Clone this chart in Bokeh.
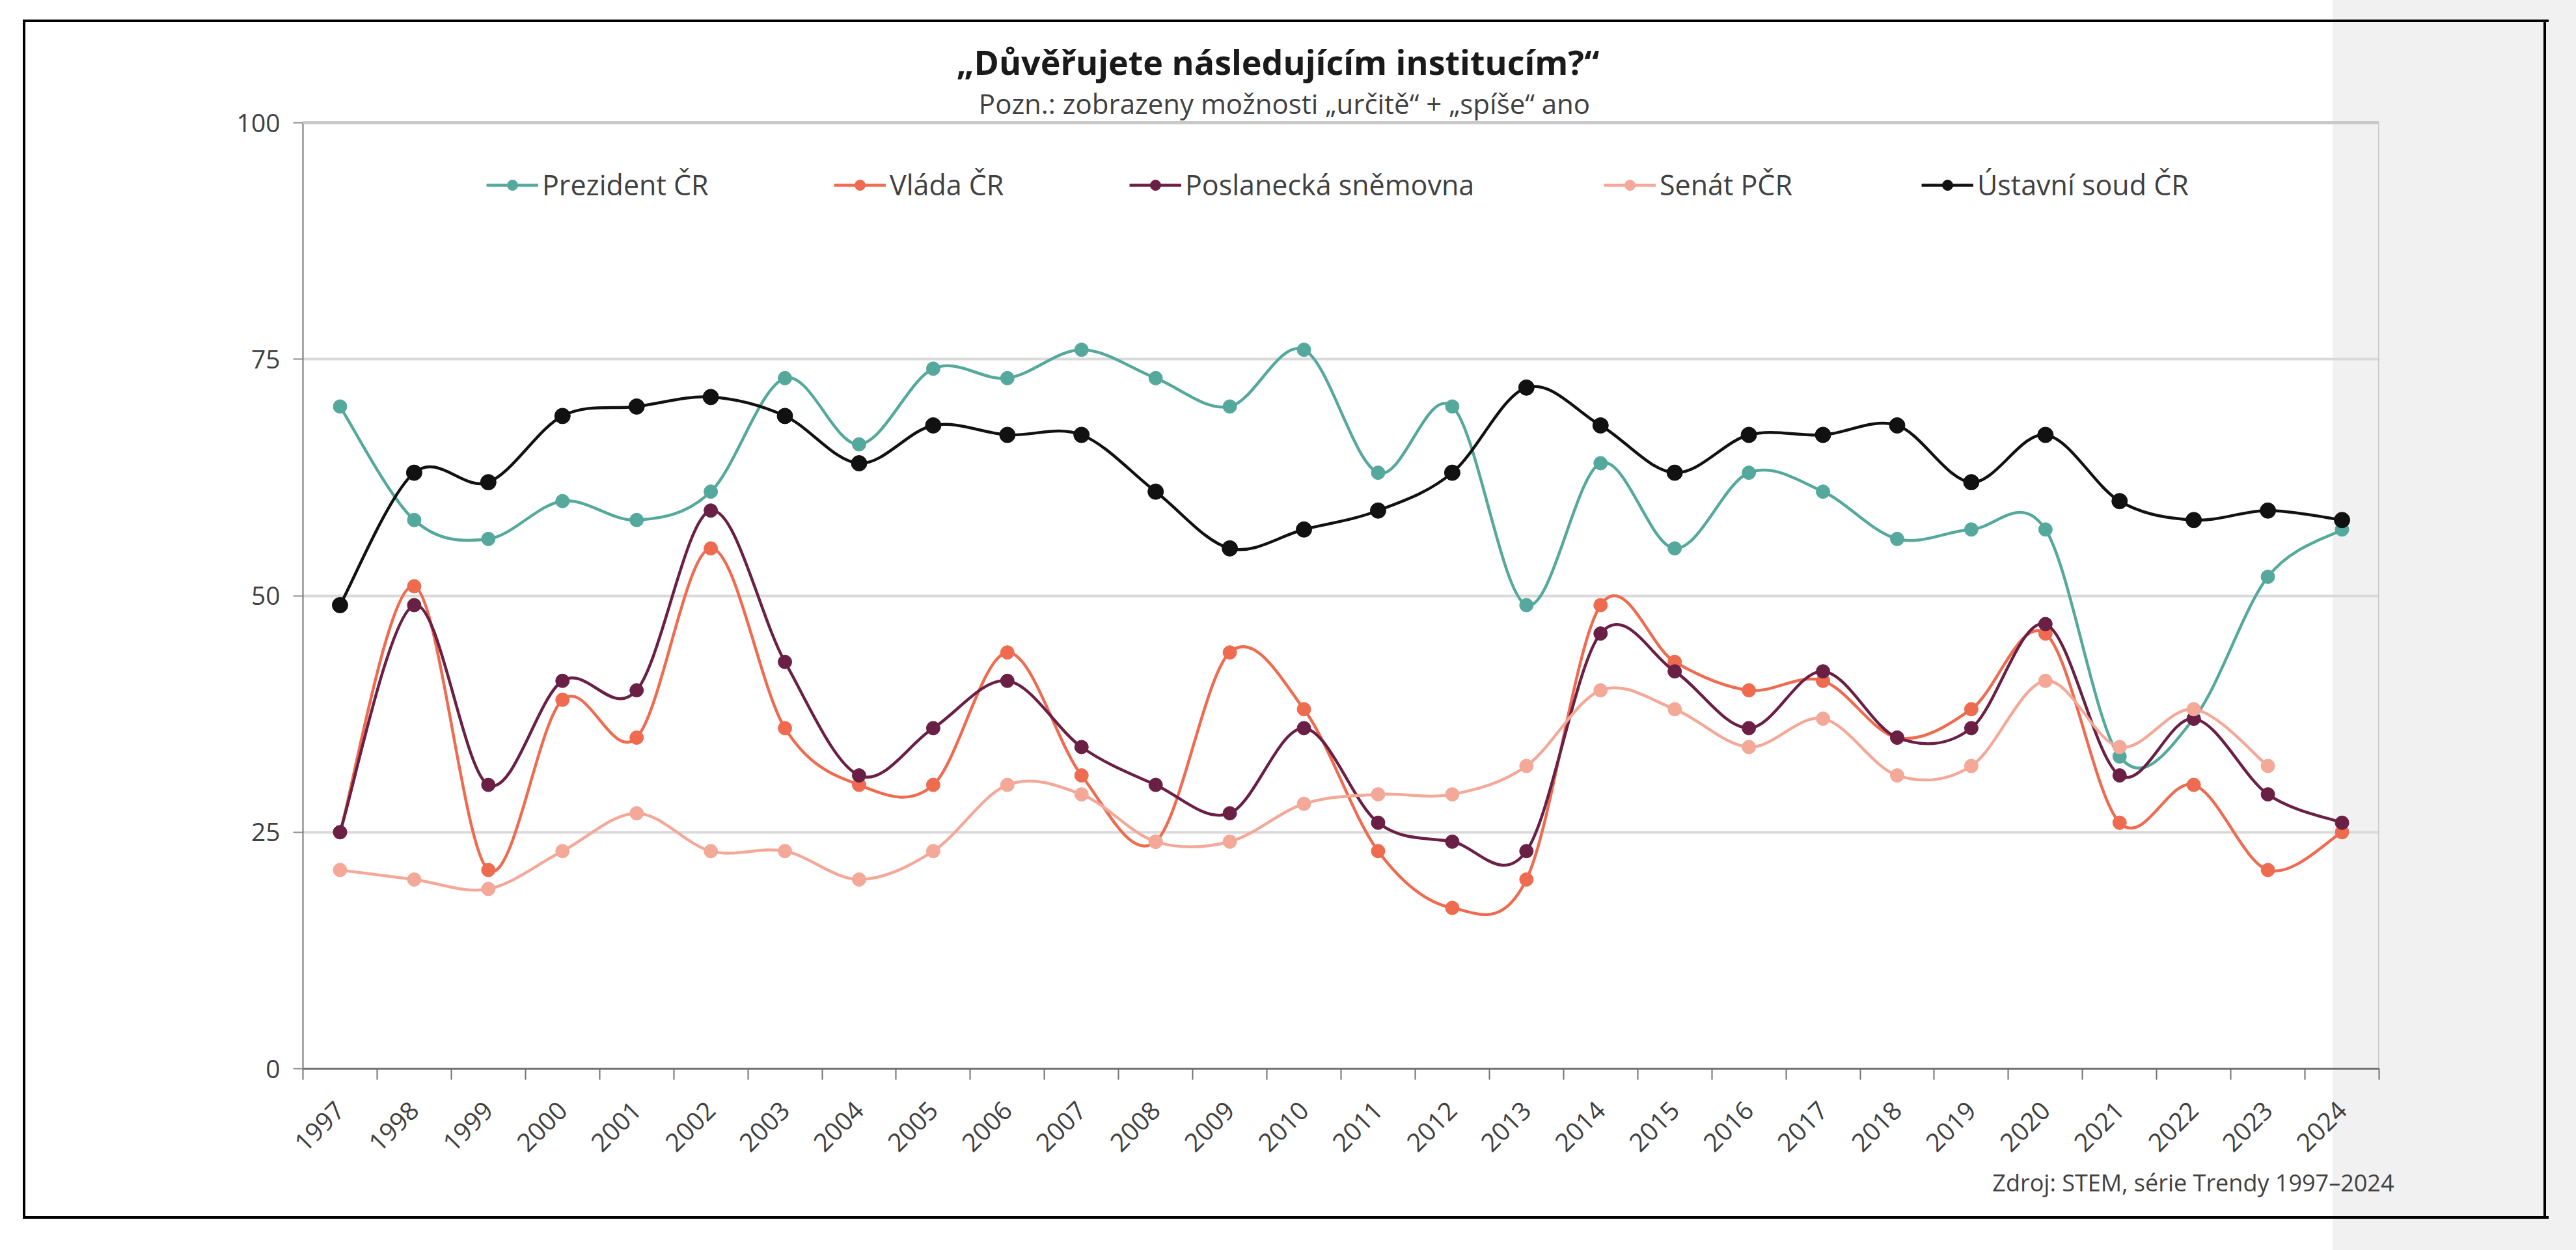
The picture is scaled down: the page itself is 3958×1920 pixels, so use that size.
import math
from bokeh.plotting import figure
from bokeh.models import (Range1d, FixedTicker, Label, Legend, LegendItem, Span,
                          Title, ColumnDataSource)
from bokeh.embed import file_html
from bokeh.resources import INLINE

# --- data: share of "definitely" + "rather" trusting answers (%) ---
years = list(range(1997, 2025))
prezident = [70, 58, 56, 60, 58, 61, 73, 66, 74, 73, 76, 73, 70, 76,
             63, 70, 49, 64, 55, 63, 61, 56, 57, 57, 33, 37, 52, 57]
vlada = [25, 51, 21, 39, 35, 55, 36, 30, 30, 44, 31, 24, 44, 38,
         23, 17, 20, 49, 43, 40, 41, 35, 38, 46, 26, 30, 21, 25]
snemovna = [25, 49, 30, 41, 40, 59, 43, 31, 36, 41, 34, 30, 27, 36,
            26, 24, 23, 46, 42, 36, 42, 35, 36, 47, 31, 37, 29, 26]
senat = [21, 20, 19, 23, 27, 23, 23, 20, 23, 30, 29, 24, 24, 28,
         29, 29, 32, 40, 38, 34, 37, 31, 32, 41, 34, 38, 32]   # through 2023
ustavni = [49, 63, 62, 69, 70, 71, 69, 64, 68, 67, 67, 61, 55, 57,
           59, 63, 72, 68, 63, 67, 67, 68, 62, 67, 60, 58, 59, 58]

series_names = ["Prezident ČR", "Vláda ČR", "Poslanecká sněmovna", "Senát PČR", "Ústavní soud ČR"]
series_values = [prezident, vlada, snemovna, senat, ustavni]
series_colors = ["#55a99c", "#ef6b50", "#6a1f45", "#f4a898", "#111111"]
marker_sizes = [21, 21, 21, 21, 24]
y_ticks = [0, 25, 50, 75, 100]

FONT = "Open Sans"
TEXT = "#404040"

# page geometry (px)
W, H = 3958, 1920
FL, FR, FT, FB = 465, 3655, 188, 1641   # plot area edges (value 100 sits at FT)
Y_TOP = y_ticks[-1] * FB / (FB - FT)     # frame reaches the top of the page


def smooth_segments(xs, ys):
    """Cubic Bezier pieces through the points (Catmull-Rom style tangents)."""
    n = len(xs)
    seg = {k: [] for k in ("x0", "y0", "x1", "y1", "cx0", "cy0", "cx1", "cy1")}
    for i in range(n - 1):
        xp, yp = (xs[i - 1], ys[i - 1]) if i > 0 else (xs[i], ys[i])
        xn, yn = (xs[i + 2], ys[i + 2]) if i + 2 < n else (xs[i + 1], ys[i + 1])
        seg["x0"].append(xs[i]); seg["y0"].append(ys[i])
        seg["x1"].append(xs[i + 1]); seg["y1"].append(ys[i + 1])
        seg["cx0"].append(xs[i] + (xs[i + 1] - xp) / 6.0)
        seg["cy0"].append(ys[i] + (ys[i + 1] - yp) / 6.0)
        seg["cx1"].append(xs[i + 1] - (xn - xs[i]) / 6.0)
        seg["cy1"].append(ys[i + 1] - (yn - ys[i]) / 6.0)
    return seg


p = figure(width=W, height=H,
           x_range=Range1d(years[0] - 0.5, years[-1] + 0.5),
           y_range=Range1d(0, Y_TOP),
           output_backend="svg", toolbar_location=None,
           min_border_left=FL, min_border_right=W - FR,
           min_border_top=0, min_border_bottom=H - FB)

# transparent canvas; the page frame and the grey right strip are the element's background
p.background_fill_color = None
p.border_fill_color = None
p.outline_line_color = None
p.styles = {
    "background": (
        "linear-gradient(#000,#000) 35px 30px / 3881px 4px no-repeat,"
        "linear-gradient(#000,#000) 35px 1868px / 3881px 4px no-repeat,"
        "linear-gradient(#000,#000) 35px 30px / 4px 1842px no-repeat,"
        "linear-gradient(#000,#000) 3908px 30px / 4px 1842px no-repeat,"
        "linear-gradient(to right, #ffffff 3584px, #f1f1f1 3584px)"
    )
}

# x axis: labels on years, ticks between years
p.xaxis.ticker = FixedTicker(ticks=years, minor_ticks=[y - 0.5 for y in years] + [years[-1] + 0.5])
p.xaxis.major_label_overrides = {y: str(y) for y in years}
p.xaxis.major_tick_out = 0
p.xaxis.major_tick_in = 0
p.xaxis.minor_tick_out = 17
p.xaxis.minor_tick_in = 0
p.xaxis.minor_tick_line_color = "#707070"
p.xaxis.minor_tick_line_width = 2
p.xaxis.axis_line_color = "#707070"
p.xaxis.axis_line_width = 3
p.xaxis.major_label_orientation = math.pi / 4
p.xaxis.major_label_standoff = 40
p.xaxis.major_label_text_font = FONT
p.xaxis.major_label_text_font_size = "39px"
p.xaxis.major_label_text_color = TEXT

# y axis
p.yaxis.ticker = FixedTicker(ticks=y_ticks)
p.yaxis.bounds = (y_ticks[0], y_ticks[-1])
p.yaxis.major_tick_out = 15
p.yaxis.major_tick_in = 0
p.yaxis.minor_tick_out = 0
p.yaxis.minor_tick_in = 0
p.yaxis.major_tick_line_color = "#8a8a8a"
p.yaxis.major_tick_line_width = 2
p.yaxis.axis_line_color = "#707070"
p.yaxis.axis_line_width = 2
p.yaxis.major_label_standoff = 20
p.yaxis.major_label_text_font = FONT
p.yaxis.major_label_text_font_size = "39px"
p.yaxis.major_label_text_color = TEXT

p.xgrid.visible = False
p.ygrid.ticker = FixedTicker(ticks=y_ticks)
p.ygrid.grid_line_color = "#d9d9d9"
p.ygrid.grid_line_width = 4

# plot-area border on top and right
p.add_layout(Span(location=y_ticks[-1], dimension="width", line_color="#c9c9c9", line_width=5))
p.segment(x0=[years[-1] + 0.5], y0=[y_ticks[0]], x1=[years[-1] + 0.5], y1=[y_ticks[-1]],
          line_color="#c9c9c9", line_width=3)

# series
legend_left = [747, 1281, 1735, 2464, 2952]
for name, vals, color, msize, lx in zip(series_names, series_values, series_colors,
                                        marker_sizes, legend_left):
    xs = years[:len(vals)]
    seg = ColumnDataSource(smooth_segments(xs, vals))
    p.bezier(x0="x0", y0="y0", x1="x1", y1="y1", cx0="cx0", cy0="cy0",
             cx1="cx1", cy1="cy1", source=seg, line_color=color, line_width=4.5)
    pts = ColumnDataSource(dict(x=xs, y=vals))
    sc = p.scatter("x", "y", source=pts, size=msize, marker="circle",
                   fill_color=color, line_color=color)
    key = p.line(x=[xs[0]], y=[float("nan")], line_color=color, line_width=4.5)
    leg = Legend(items=[LegendItem(label=name, renderers=[key, sc])],
                 location=(lx - FL, FB - 313),
                 orientation="horizontal",
                 glyph_width=80, glyph_height=40, label_height=40,
                 label_standoff=6, padding=0, margin=0, spacing=0,
                 border_line_color=None, background_fill_alpha=0,
                 label_text_font=FONT, label_text_font_size="43px",
                 label_text_color=TEXT)
    p.add_layout(leg)

# title and note
p.add_layout(Label(x=1963 - FL, y=FB - 94, x_units="screen", y_units="screen",
                   text="„Důvěřujete následujícím institucím?“",
                   text_font=FONT, text_font_style="bold", text_font_size="52px",
                   text_color="#1a1a1a", text_align="center", text_baseline="middle"))
p.add_layout(Label(x=1973 - FL, y=FB - 158, x_units="screen", y_units="screen",
                   text="Pozn.: zobrazeny možnosti „určitě“ + „spíše“ ano",
                   text_font=FONT, text_font_size="42px",
                   text_color=TEXT, text_align="center", text_baseline="middle"))

# source line under the axis
p.add_layout(Title(text="Zdroj: STEM, série Trendy 1997–2024", align="right", offset=-23,
                   standoff=10, text_font=FONT, text_font_style="normal",
                   text_font_size="36px", text_color=TEXT), "below")

open("out.html", "w").write(file_html(p, INLINE))
